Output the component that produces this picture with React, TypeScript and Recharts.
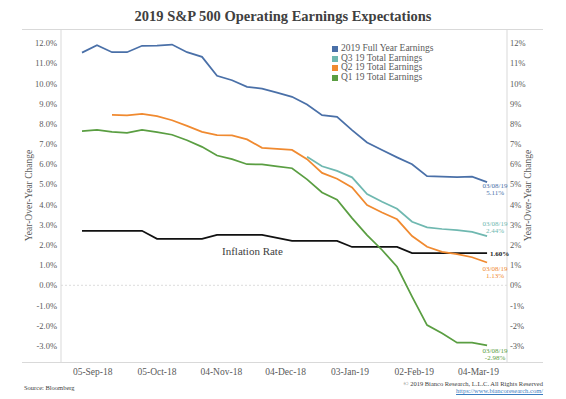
import {
  Line,
  LineChart,
  ReferenceLine,
  XAxis,
  YAxis,
  LabelList,
} from "recharts";

// weekly observation dates (Fridays)
const dates = [
  "2018-08-31", "2018-09-07", "2018-09-14", "2018-09-21", "2018-09-28",
  "2018-10-05", "2018-10-12", "2018-10-19", "2018-10-26", "2018-11-02",
  "2018-11-09", "2018-11-16", "2018-11-23", "2018-11-30", "2018-12-07",
  "2018-12-14", "2018-12-21", "2018-12-28", "2019-01-04", "2019-01-11",
  "2019-01-18", "2019-01-25", "2019-02-01", "2019-02-08", "2019-02-15",
  "2019-02-22", "2019-03-01", "2019-03-08",
];

const fullYear = [
  11.53, 11.9, 11.55, 11.55, 11.87, 11.88, 11.93, 11.55, 11.32, 10.38,
  10.16, 9.83, 9.75, 9.55, 9.34, 8.96, 8.43, 8.35, 7.69, 7.08,
  6.7, 6.34, 6.0, 5.41, 5.38, 5.36, 5.38, 5.11,
];

const q3 = [
  null, null, null, null, null, null, null, null, null, null,
  null, null, null, null, null, 6.37, 5.9, 5.67, 5.35, 4.52,
  4.14, 3.79, 3.15, 2.87, 2.79, 2.74, 2.65, 2.44,
];

const q2 = [
  null, null, 8.45, 8.42, 8.5, 8.38, 8.18, 7.9, 7.6, 7.44,
  7.43, 7.23, 6.81, 6.76, 6.71, 6.25, 5.57, 5.28, 4.85, 3.98,
  3.61, 3.27, 2.44, 1.91, 1.66, 1.55, 1.39, 1.13,
];

const q1 = [
  7.64, 7.7, 7.6, 7.55, 7.7, 7.59, 7.46, 7.19, 6.86, 6.43,
  6.25, 6.0, 5.99, 5.89, 5.8, 5.25, 4.6, 4.24, 3.33, 2.49,
  1.75, 0.92, -0.56, -1.97, -2.38, -2.84, -2.84, -2.98,
];

const inflation = [
  2.7, 2.7, 2.7, 2.7, 2.7, 2.3, 2.3, 2.3, 2.3, 2.5,
  2.5, 2.5, 2.5, 2.35, 2.2, 2.2, 2.2, 2.2, 1.9, 1.9,
  1.9, 1.9, 1.6, 1.6, 1.6, 1.6, 1.6, 1.6,
];

const xTickDates = [
  "2018-09-05", "2018-10-05", "2018-11-04", "2018-12-04",
  "2019-01-03", "2019-02-02", "2019-03-04",
];

const yTicks = [-3, -2, -1, 0, 1, 2, 3, 4, 5, 6, 7, 8, 9, 10, 11, 12];

const months = ["Jan", "Feb", "Mar", "Apr", "May", "Jun", "Jul", "Aug", "Sep", "Oct", "Nov", "Dec"];

const toTime = (s: string) => Date.parse(s + "T00:00:00Z");
const day = 86400000;

const data = dates.map((d, i) => ({
  t: toTime(d),
  fullYear: fullYear[i],
  q3: q3[i],
  q2: q2[i],
  q1: q1[i],
  inflation: inflation[i],
}));

const fmtDate = (t: number) => {
  const d = new Date(t);
  const dd = String(d.getUTCDate()).padStart(2, "0");
  const yy = String(d.getUTCFullYear()).slice(2);
  return `${dd}-${months[d.getUTCMonth()]}-${yy}`;
};

const FONT = "'Liberation Serif', 'DejaVu Serif', serif";
const GRID = "#d9d9d9";
const TEXT = "#595959";

const series = [
  { key: "fullYear", name: "2019 Full Year Earnings", color: "#4a70a8", label: "5.11%", dy: 6 },
  { key: "q3", name: "Q3 19 Total Earnings", color: "#6fb8b0", label: "2.44%", dy: -10 },
  { key: "q2", name: "Q2 19 Total Earnings", color: "#f08a30", label: "1.13%", dy: 8 },
  { key: "q1", name: "Q1 19 Total Earnings", color: "#5a9e42", label: "-2.98%", dy: 8 },
];

const endLabel = (color: string, value: string, dy: number) => (props: any) => {
  if (props.index !== dates.length - 1) return null;
  const x = props.x + 8;
  const y = props.y + dy;
  return (
    <text x={x} y={y} fill={color} fontFamily={FONT} fontSize={7} textAnchor="middle">
      <tspan x={x} dy={0}>03/08/19</tspan>
      <tspan x={x} dy={7}>{value}</tspan>
    </text>
  );
};

const inflationLabel = (props: any) => {
  if (props.index !== dates.length - 1) return null;
  return (
    <text x={props.x + 3} y={props.y + 2.5} fill="#222" fontFamily={FONT} fontSize={7} fontWeight="bold">
      1.60%
    </text>
  );
};

const LegendBox = () => (
  <div
    style={{
      position: "absolute",
      left: 332,
      top: 44,
      fontFamily: FONT,
      fontSize: 9.5,
      color: TEXT,
      lineHeight: "9.7px",
    }}
  >
    {series.map((s) => (
      <div key={s.key} style={{ display: "flex", alignItems: "center" }}>
        <span style={{ width: 6, height: 6, background: s.color, marginRight: 3, display: "inline-block" }} />
        {s.name}
      </div>
    ))}
  </div>
);

export default function App() {
  return (
    <div style={{ position: "absolute", left: 0, top: 0, width: 566, height: 399, background: "#fff" }}>
      <div
        style={{
          position: "absolute",
          top: 8,
          left: 0,
          width: 566,
          textAlign: "center",
          fontFamily: FONT,
          fontWeight: "bold",
          fontSize: 14.5,
          color: "#404040",
        }}
      >
        2019 S&amp;P 500 Operating Earnings Expectations
      </div>
      <svg width={566} height={399} style={{ position: "absolute", left: 0, top: 0 }}>
        <line x1={22} x2={543} y1={29.5} y2={29.5} stroke={GRID} />
        <line x1={22} x2={543} y1={362.5} y2={362.5} stroke={GRID} />
      </svg>
      <div style={{ position: "absolute", left: 0, top: 0 }}>
        <LineChart width={566} height={399} data={data} margin={{ top: 29, right: 0, bottom: 0, left: 0 }}>
          <XAxis
            dataKey="t"
            type="number"
            scale="time"
            domain={[toTime("2018-08-21") + day * 0.2, toTime("2019-03-17") + day * 0.3]}
            ticks={xTickDates.map(toTime)}
            tickFormatter={fmtDate}
            axisLine={false}
            tickLine={false}
            tickSize={0}
            tickMargin={6}
            height={37}
            tick={{ fontFamily: FONT, fontSize: 9.5, fill: TEXT }}
            interval={0}
          />
          <YAxis
            yAxisId="left"
            orientation="left"
            width={61}
            domain={[-3.8, 12.7]}
            ticks={yTicks}
            tickFormatter={(v: number) => `${v.toFixed(1)}%`}
            axisLine={{ stroke: GRID }}
            tickLine={false}
            tickSize={0}
            tickMargin={4}
            tick={{ fontFamily: FONT, fontSize: 8.5, fill: TEXT }}
            label={{
              value: "Year-Over-Year Change",
              angle: -90,
              position: "center",
              dx: -2,
              style: { fontFamily: FONT, fontSize: 9.5, fill: TEXT },
            }}
          />
          <YAxis
            yAxisId="right"
            orientation="right"
            width={59}
            domain={[-3.8, 12.7]}
            ticks={yTicks}
            tickFormatter={(v: number) => `${v}%`}
            axisLine={{ stroke: GRID }}
            tickLine={false}
            tickSize={0}
            tickMargin={3}
            tick={{ fontFamily: FONT, fontSize: 8.5, fill: TEXT }}
            label={{
              value: "Year-Over-Year Change",
              angle: -90,
              position: "center",
              dx: -9,
              style: { fontFamily: FONT, fontSize: 9.5, fill: TEXT },
            }}
          />
          <ReferenceLine yAxisId="left" y={0} stroke="#dcdcdc" strokeDasharray="2 2" />
          <Line
            yAxisId="right"
            dataKey="inflation"
            stroke="#111"
            strokeWidth={1.75}
            dot={false}
            isAnimationActive={false}
            legendType="none"
          >
            <LabelList dataKey="inflation" content={inflationLabel} />
          </Line>
          {series.map((s) => (
            <Line
              key={s.key}
              yAxisId="left"
              dataKey={s.key}
              name={s.name}
              stroke={s.color}
              strokeWidth={1.75}
              dot={false}
              connectNulls={false}
              isAnimationActive={false}
            >
              <LabelList dataKey={s.key} content={endLabel(s.color, s.label, s.dy)} />
            </Line>
          ))}
        </LineChart>
      </div>
      <LegendBox />
      <div
        style={{
          position: "absolute",
          left: 222,
          top: 245,
          fontFamily: FONT,
          fontSize: 11,
          color: "#404040",
        }}
      >
        Inflation Rate
      </div>
      <div style={{ position: "absolute", left: 24, top: 384, fontFamily: FONT, fontSize: 6.5, color: "#404040" }}>
        Source: Bloomberg
      </div>
      <div
        style={{
          position: "absolute",
          right: 566 - 543,
          top: 380,
          fontFamily: FONT,
          fontSize: 6.5,
          color: "#404040",
          textAlign: "right",
          lineHeight: "7px",
        }}
      >
        © 2019 Bianco Research, L.L.C. All Rights Reserved
        <br />
        <span style={{ color: "#3a7cc0", textDecoration: "underline" }}>https://www.biancoresearch.com/</span>
      </div>
    </div>
  );
}
